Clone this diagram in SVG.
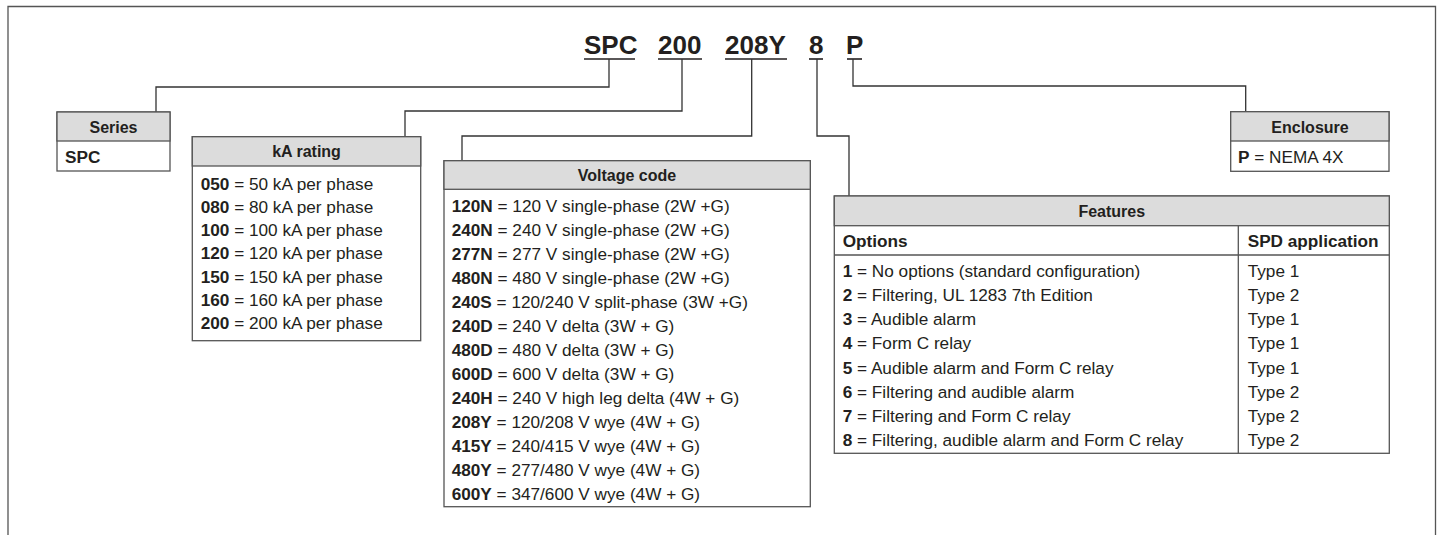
<svg xmlns="http://www.w3.org/2000/svg" width="1437" height="535" viewBox="0 0 1437 535">
<style>
text{font-family:"Liberation Sans",Arial,sans-serif;fill:#231f20}
.t{font-size:26px;font-weight:bold}
.h{font-size:16px;font-weight:bold;text-anchor:middle}
.b{font-size:17.2px}
.bb{font-weight:bold}
.box{fill:#fff;stroke:#555;stroke-width:1.3}
.hdr{fill:#dcdcdc;stroke:#555;stroke-width:1.3}
.ln{stroke:#555;stroke-width:1.3;fill:none}
.cn{stroke:#333;stroke-width:1.3;fill:none}
.ul{stroke:#231f20;stroke-width:1.6}
</style>
<rect width="1437" height="535" fill="#fff"/>
<path class="ln" d="M8,535 V6.5 H1435.5 V535" stroke-width="1.5"/>

<g id="title">
<text class="t" x="584" y="54">SPC</text>
<text class="t" x="658" y="54">200</text>
<text class="t" x="725" y="54">208Y</text>
<text class="t" x="809" y="54">8</text>
<text class="t" x="846" y="54">P</text>
<line class="ul" x1="584" y1="59" x2="635" y2="59"/>
<line class="ul" x1="658" y1="59" x2="702" y2="59"/>
<line class="ul" x1="725" y1="59" x2="787" y2="59"/>
<line class="ul" x1="809" y1="59" x2="823" y2="59"/>
<line class="ul" x1="847" y1="59" x2="862" y2="59"/>
</g>

<g id="connectors">
<path class="cn" d="M609,59 V87 H156 V112"/>
<path class="cn" d="M682,59 V111 H405 V136.7"/>
<path class="cn" d="M751.7,59 V136 H462 V160.7"/>
<path class="cn" d="M817,59 V136 H849 V196"/>
<path class="cn" d="M853,59 V86 H1245.7 V111.7"/>
</g>

<g id="series">
<rect class="box" x="57" y="112" width="113" height="59"/>
<rect class="hdr" x="57" y="112" width="113" height="29"/>
<text class="h" x="113.5" y="133">Series</text>
<text class="b bb" x="65" y="163">SPC</text>
</g>

<g id="ka-rating">
<rect class="box" x="192.3" y="136.7" width="228.4" height="204"/>
<rect class="hdr" x="192.3" y="136.7" width="228.4" height="29.3"/>
<text class="h" x="306.5" y="157.3">kA rating</text>
<text class="b" x="200.7" y="189.5"><tspan class="bb">050</tspan> = 50 kA per phase</text>
<text class="b" x="200.7" y="212.8"><tspan class="bb">080</tspan> = 80 kA per phase</text>
<text class="b" x="200.7" y="236.1"><tspan class="bb">100</tspan> = 100 kA per phase</text>
<text class="b" x="200.7" y="259.4"><tspan class="bb">120</tspan> = 120 kA per phase</text>
<text class="b" x="200.7" y="282.7"><tspan class="bb">150</tspan> = 150 kA per phase</text>
<text class="b" x="200.7" y="306"><tspan class="bb">160</tspan> = 160 kA per phase</text>
<text class="b" x="200.7" y="329.3"><tspan class="bb">200</tspan> = 200 kA per phase</text>
</g>

<g id="voltage-code">
<rect class="box" x="444" y="160.7" width="366.3" height="346"/>
<rect class="hdr" x="444" y="160.7" width="366.3" height="28.6"/>
<text class="h" x="627" y="181">Voltage code</text>
<text class="b" x="451.7" y="211.7"><tspan class="bb">120N</tspan> = 120 V single-phase (2W +G)</text>
<text class="b" x="451.7" y="235.7"><tspan class="bb">240N</tspan> = 240 V single-phase (2W +G)</text>
<text class="b" x="451.7" y="259.7"><tspan class="bb">277N</tspan> = 277 V single-phase (2W +G)</text>
<text class="b" x="451.7" y="283.7"><tspan class="bb">480N</tspan> = 480 V single-phase (2W +G)</text>
<text class="b" x="451.7" y="307.7"><tspan class="bb">240S</tspan> = 120/240 V split-phase (3W +G)</text>
<text class="b" x="451.7" y="331.7"><tspan class="bb">240D</tspan> = 240 V delta (3W + G)</text>
<text class="b" x="451.7" y="355.7"><tspan class="bb">480D</tspan> = 480 V delta (3W + G)</text>
<text class="b" x="451.7" y="379.7"><tspan class="bb">600D</tspan> = 600 V delta (3W + G)</text>
<text class="b" x="451.7" y="403.7"><tspan class="bb">240H</tspan> = 240 V high leg delta (4W + G)</text>
<text class="b" x="451.7" y="427.7"><tspan class="bb">208Y</tspan> = 120/208 V wye (4W + G)</text>
<text class="b" x="451.7" y="451.7"><tspan class="bb">415Y</tspan> = 240/415 V wye (4W + G)</text>
<text class="b" x="451.7" y="475.7"><tspan class="bb">480Y</tspan> = 277/480 V wye (4W + G)</text>
<text class="b" x="451.7" y="499.7"><tspan class="bb">600Y</tspan> = 347/600 V wye (4W + G)</text>
</g>

<g id="features">
<rect class="box" x="834.3" y="196" width="555" height="257.3"/>
<rect class="hdr" x="834.3" y="196" width="555" height="29.7"/>
<line class="ln" x1="834.3" y1="255" x2="1389.3" y2="255"/>
<line class="ln" x1="1238.3" y1="225.7" x2="1238.3" y2="453.3"/>
<text class="h" x="1111.8" y="217">Features</text>
<text class="b bb" x="842.7" y="247" font-size="16">Options</text>
<text class="b bb" x="1247.7" y="247" font-size="16">SPD application</text>
<text class="b" x="842.7" y="276.7"><tspan class="bb">1</tspan> = No options (standard configuration)</text>
<text class="b" x="842.7" y="300.9"><tspan class="bb">2</tspan> = Filtering, UL 1283 7th Edition</text>
<text class="b" x="842.7" y="325.1"><tspan class="bb">3</tspan> = Audible alarm</text>
<text class="b" x="842.7" y="349.3"><tspan class="bb">4</tspan> = Form C relay</text>
<text class="b" x="842.7" y="373.5"><tspan class="bb">5</tspan> = Audible alarm and Form C relay</text>
<text class="b" x="842.7" y="397.7"><tspan class="bb">6</tspan> = Filtering and audible alarm</text>
<text class="b" x="842.7" y="421.9"><tspan class="bb">7</tspan> = Filtering and Form C relay</text>
<text class="b" x="842.7" y="446.1"><tspan class="bb">8</tspan> = Filtering, audible alarm and Form C relay</text>
<text class="b" x="1247.7" y="276.7">Type 1</text>
<text class="b" x="1247.7" y="300.9">Type 2</text>
<text class="b" x="1247.7" y="325.1">Type 1</text>
<text class="b" x="1247.7" y="349.3">Type 1</text>
<text class="b" x="1247.7" y="373.5">Type 1</text>
<text class="b" x="1247.7" y="397.7">Type 2</text>
<text class="b" x="1247.7" y="421.9">Type 2</text>
<text class="b" x="1247.7" y="446.1">Type 2</text>
</g>

<g id="enclosure">
<rect class="box" x="1230.7" y="111.7" width="158.3" height="59.6"/>
<rect class="hdr" x="1230.7" y="111.7" width="158.3" height="29.3"/>
<text class="h" x="1310" y="133">Enclosure</text>
<text class="b" x="1238" y="163"><tspan class="bb">P</tspan> = NEMA 4X</text>
</g>
</svg>
